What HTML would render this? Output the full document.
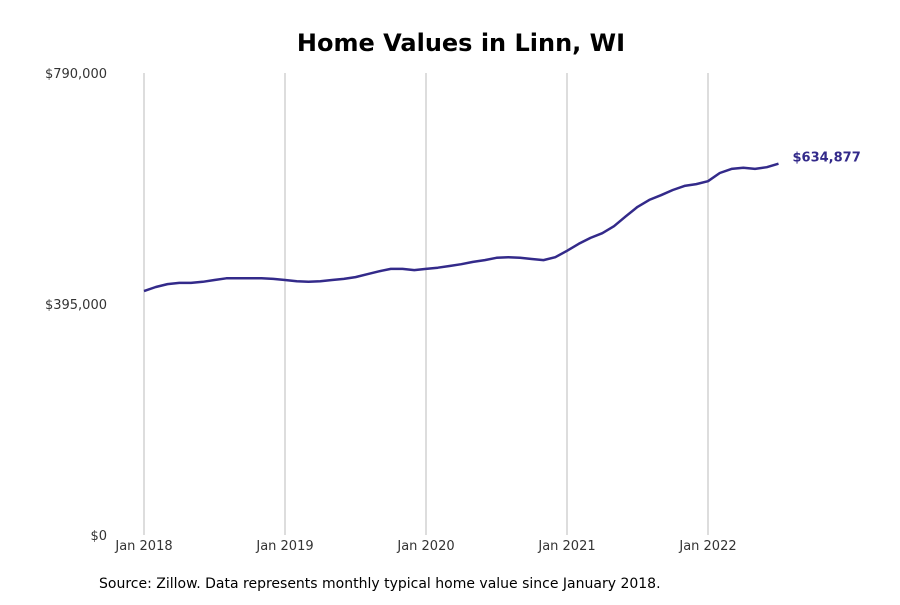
<!DOCTYPE html>
<html><head><meta charset="utf-8"><style>
body{margin:0;background:#fff;font-family:"Liberation Sans","DejaVu Sans",sans-serif;}
</style></head><body>
<svg width="900" height="600" viewBox="0 0 900 600" xmlns="http://www.w3.org/2000/svg">
<rect width="900" height="600" fill="#fff"/>
<text x="461" y="51" text-anchor="middle" font-size="24" font-weight="bold" fill="#000" font-family="DejaVu Sans, sans-serif">Home Values in Linn, WI</text>
<g id="grid"></g><g id="yaxis"></g><g id="xaxis"></g><g id="series"></g>
<text x="99" y="588" font-size="14" fill="#000" font-family="DejaVu Sans, sans-serif">Source: Zillow. Data represents monthly typical home value since January 2018.</text>
</svg>
<script>
const xTickLabels=["Jan 2018","Jan 2019","Jan 2020","Jan 2021","Jan 2022"];
const yTickValues=[0,395000,790000];
const yTickLabels=["$0","$395,000","$790,000"];
const values=[417000,424000,429000,431000,431000,433000,436000,439000,439000,439000,439000,438000,
436000,434000,433000,434000,436000,438000,441000,446000,451000,455000,455000,453000,
455000,457000,460000,463000,467000,470000,474000,475000,474000,472000,470000,475000,
486000,498000,508000,516000,528000,545000,561000,573000,581000,590000,597000,600000,
605000,619000,626000,628000,626000,629000,634877];
const lastLabel="$634,877";
const NS="http://www.w3.org/2000/svg";
const x=i=>144+i*(141/12);
const y=v=>535-v/790000*462;
function mk(t,a,p){const e=document.createElementNS(NS,t);for(const k in a)e.setAttribute(k,a[k]);document.getElementById(p).appendChild(e);return e;}
xTickLabels.forEach((l,i)=>{
 const g=mk('line',{x1:x(i*12),x2:x(i*12),y1:73,y2:535,stroke:'#bbb','stroke-width':1},'grid');
 
 
 const t=mk('text',{x:x(i*12),y:550,'text-anchor':'middle','font-size':13,fill:'#333','font-family':'DejaVu Sans, sans-serif'},'xaxis');
 t.textContent=l;
 
 
});
yTickValues.forEach((v,i)=>{
 const t=mk('text',{x:107,y:y(v)+5,'text-anchor':'end','font-size':13,fill:'#333','font-family':'DejaVu Sans, sans-serif'},'yaxis');
 t.textContent=yTickLabels[i];
 
 
});
const p=mk('path',{d:values.map((v,i)=>(i?'L':'M')+x(i).toFixed(1)+','+y(v).toFixed(1)).join(''),fill:'none',stroke:'#332a8a','stroke-width':2.5,'stroke-linejoin':'round'},'series');


const n=values.length-1;
const lt=mk('text',{x:x(n)+14,y:y(values[n])-2,'font-size':13,'font-weight':'bold',fill:'#332a8a','font-family':'DejaVu Sans, sans-serif'},'series');
lt.textContent=lastLabel;


</script>
</body></html>
